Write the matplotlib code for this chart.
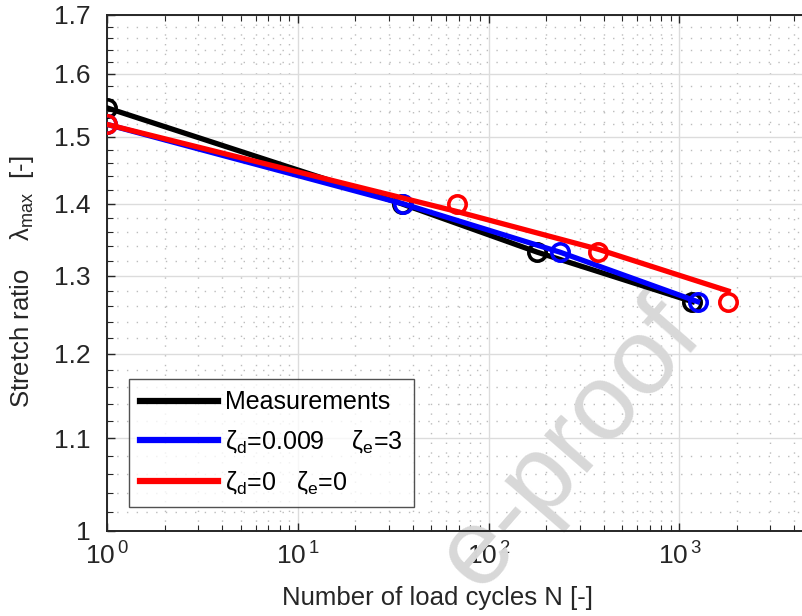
import numpy as np
import matplotlib
matplotlib.use("Agg")
import matplotlib.pyplot as plt
from matplotlib.ticker import FixedLocator, FixedFormatter, NullFormatter

# ---- data ----
meas_N = [1, 35, 180, 1170]
meas_lam = [1.545, 1.400, 1.332, 1.266]

blue_N = [1, 35.6, 237, 1245]
blue_lam = [1.519, 1.400, 1.332, 1.266]

red_line_N = [1, 68, 376, 1800]
red_line_lam = [1.519, 1.389, 1.336, 1.280]
red_N = [1, 68, 376, 1808]
red_lam = [1.519, 1.400, 1.332, 1.266]

labels = ["Measurements",
          "ζ$_{\\mathregular{d}}$=0.009    ζ$_{\\mathregular{e}}$=3",
          "ζ$_{\\mathregular{d}}$=0   ζ$_{\\mathregular{e}}$=0"]

y_major = [1.0, 1.1, 1.2, 1.3, 1.4, 1.5, 1.6, 1.7]
y_major_labels = ["1", "1.1", "1.2", "1.3", "1.4", "1.5", "1.6", "1.7"]
x_major = [1, 10, 100, 1000]
x_major_labels = ["$\\mathregular{10^{\\,0}}$", "$\\mathregular{10^{\\,1}}$",
                  "$\\mathregular{10^{\\,2}}$", "$\\mathregular{10^{\\,3}}$"]

plt.rcParams['font.family'] = ['Liberation Sans', 'DejaVu Sans']
plt.rcParams['mathtext.fontset'] = 'custom'
plt.rcParams['mathtext.rm'] = 'Liberation Sans'
plt.rcParams['mathtext.it'] = 'Liberation Sans:italic'

FS_TICK = 19
FS_LEG = 18
FS_LAB = 18.5
fig = plt.figure(figsize=(8.02, 6.16), dpi=100)
left_px, right_px, top_px, bot_px = 107.3, 812.7, 15, 531
ax = fig.add_axes([left_px / 802, 1 - bot_px / 616,
                   (right_px - left_px) / 802, (bot_px - top_px) / 616])
ax.set_xscale('log')
ax.set_yscale('log')
ax.set_xlim(1, 5000)
ax.set_ylim(1.0, 1.7)

axc = '#262626'
ax.set_axisbelow(True)
ax.yaxis.set_major_locator(FixedLocator(y_major))
ax.yaxis.set_major_formatter(FixedFormatter(y_major_labels))
y_minor = [round(1.0 + 0.02 * i, 2) for i in range(36)]
y_minor = [v for v in y_minor if round(v * 10, 6) != round(v * 10)]
ax.yaxis.set_minor_locator(FixedLocator(y_minor))
ax.yaxis.set_minor_formatter(NullFormatter())
ax.xaxis.set_major_locator(FixedLocator(x_major))
ax.xaxis.set_major_formatter(FixedFormatter(x_major_labels))
x_minor = [m * 10 ** d for d in range(4) for m in range(2, 10)]
ax.xaxis.set_minor_locator(FixedLocator(x_minor))
ax.xaxis.set_minor_formatter(NullFormatter())

ax.grid(True, which='major', color='#dcdcdc', linewidth=1.0, linestyle='-')
ax.grid(True, which='minor', color='#bcbcbc', linewidth=1.0, linestyle=(0, (1, 6)))

ax.tick_params(which='both', direction='in', top=True, right=False, colors=axc,
               labelsize=FS_TICK, labelcolor='#262626')
ax.tick_params(which='major', length=6, width=1.0)
ax.tick_params(which='minor', length=4, width=0.8)
ax.tick_params(axis='y', pad=12)
ax.tick_params(axis='x', pad=8)
for s in ['left', 'bottom', 'top']:
    ax.spines[s].set_color(axc)
    ax.spines[s].set_linewidth(1.4)
ax.spines['right'].set_visible(False)

lw = 3.8
ms = 12.5
mew = 2.6
l1, = ax.plot(meas_N, meas_lam, color='black', lw=lw, zorder=3)
ax.plot(meas_N, meas_lam, 'o', mfc='none', mec='black', ms=ms, mew=mew, zorder=3)
l2, = ax.plot(blue_N, blue_lam, color='#0000ff', lw=lw, zorder=4)
ax.plot(blue_N, blue_lam, 'o', mfc='none', mec='#0000ff', ms=ms, mew=mew, zorder=4)
l3, = ax.plot(red_line_N, red_line_lam, color='#ff0000', lw=lw, zorder=5)
ax.plot(red_N, red_lam, 'o', mfc='none', mec='#ff0000', ms=ms, mew=mew, zorder=5)

leg = ax.legend([l1, l2, l3], labels, loc='upper left',
                bbox_to_anchor=((129 - left_px) / (right_px - left_px),
                                (bot_px - 379) / (bot_px - top_px)),
                fontsize=FS_LEG, frameon=True, fancybox=False, shadow=False,
                handlelength=3.1, handletextpad=0.28, labelspacing=0.56,
                borderpad=0.45, borderaxespad=0.0)
leg.get_frame().set_edgecolor('#262626')
leg.get_frame().set_linewidth(1.0)
leg.set_zorder(10)
for h in leg.get_lines():
    h.set_linewidth(4.5)

ax.text(438, 616 - 598, "Number of load cycles N [-]", transform=None,
        fontsize=FS_LAB, color='#262626', ha='center', va='center',
        zorder=0.3, clip_on=False)
ax.text(22, 616 - 282, "Stretch ratio    λ$_{\\mathregular{max}}$  [-]", transform=None,
        fontsize=FS_LAB, color='#262626', ha='center', va='center', rotation=90,
        zorder=0.3, clip_on=False)

# watermark (only the visible part of the page stamp)
ax.text(704, 616 - 334, "e-proof", transform=None, fontsize=78,
        color='#d8d8d8', rotation=49, rotation_mode='anchor',
        ha='right', va='baseline', zorder=2, clip_on=False)

fig.savefig("out.png", dpi=100)
